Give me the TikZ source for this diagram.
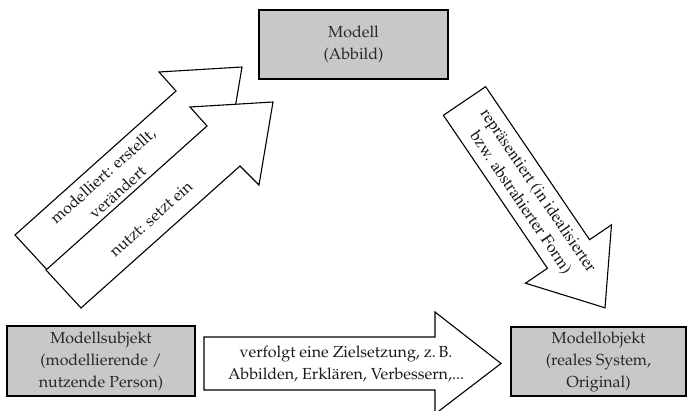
\documentclass[tikz,border=0pt]{standalone}
\usepackage[T1]{fontenc}
\usepackage{mathpazo}
\definecolor{boxgray}{RGB}{200,200,200}
\newcommand\palsize{\fontsize{16}{22}\selectfont}
\newcommand\timessize{\fontfamily{ptm}\fontsize{17}{21}\selectfont}
\tikzset{
  box/.style={draw=black, line width=1.4pt, fill=boxgray, align=center,
    font=\palsize, text=black!85, inner sep=0pt},
  blockarrow/.style={draw=black, line width=1.1pt, fill=white, line join=miter},
  lbl/.style={align=center, font=\palsize, inner sep=0pt, text=black!90},
}
\begin{document}
\begin{tikzpicture}[x=1pt,y=-1pt]
\useasboundingbox (0,0) rectangle (690,411);

% boxes
\node[box, minimum width=189pt, minimum height=69pt] (modell) at (353.5,44.5) {Modell\\(Abbild)};
\node[box, minimum width=188pt, minimum height=70pt] (subjekt) at (101,361) {Modellsubjekt\\(modellierende /\\nutzende Person)};
\node[box, minimum width=175pt, minimum height=69pt] (objekt) at (598.5,361.5) {Modellobjekt\\(reales System,\\Original)};

% upper-left arrows
\draw[blockarrow] (15,235) -- (176,91) -- (159,72) -- (242,67) -- (228,150) -- (209,131) -- (50,273) -- cycle;
\draw[blockarrow] (46,270) -- (207,126) -- (190,107) -- (273,102) -- (259,185) -- (240,166) -- (81,308) -- cycle;
\node[lbl, rotate=41.8] (modelliert) at (110,184) {modelliert: erstellt,\\ver\"andert};
\node[lbl, rotate=41.8] (nutzt) at (151,219) {nutzt: setzt ein};

% right arrow
\draw[blockarrow] (485.6,86.7) -- (589.6,239.7) -- (611.5,224.8) -- (605,307.8) -- (525.5,283.2) -- (547.4,268.3) -- (443.4,115.3) -- cycle;
\node[lbl, font=\timessize, rotate=-55.8] (repr) at (529,197) {repr\"asentiert (in idealisierter\\bzw. abstrahierter Form)};

% bottom arrow
\draw[blockarrow] (204,337) -- (435,337) -- (435,312) -- (501,363.5) -- (435,414) -- (435,390) -- (204,390) -- cycle;
\node[lbl] (ziel) at (346,364) {verfolgt eine Zielsetzung, z.\,B.\\Abbilden, Erkl\"aren, Verbessern,...};
\end{tikzpicture}
\end{document}
